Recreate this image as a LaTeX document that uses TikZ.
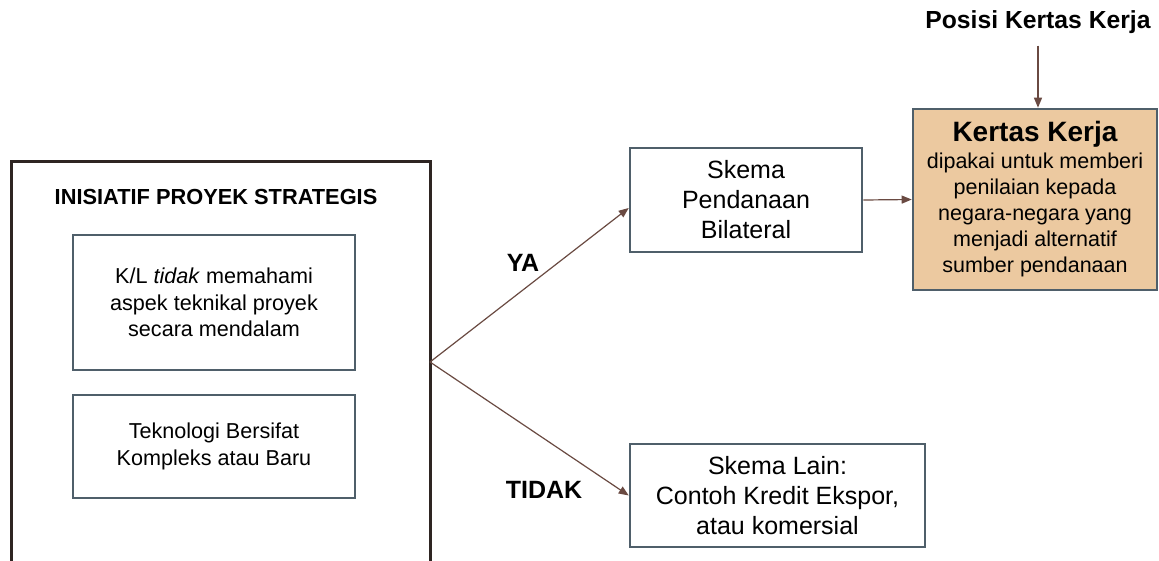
\documentclass[tikz,border=0pt]{standalone}
\usepackage{fontspec}
\setmainfont{Liberation Sans}
\usetikzlibrary{arrows.meta,calc}
\definecolor{outerc}{HTML}{2E2522}
\definecolor{slate}{HTML}{4F5F6A}
\definecolor{arrc}{HTML}{6A4A42}
\definecolor{tan}{HTML}{ECC9A0}
\tikzset{
  box/.style={draw=slate,line width=2.6pt,rectangle,align=center,inner sep=0pt},
  conn/.style={draw=arrc,line width=1.2pt,-{Triangle[length=10pt,width=8pt]}},
  lbl/.style={font=\fontsize{25}{28}\selectfont\bfseries,inner sep=0pt},
}
\begin{document}
\begin{tikzpicture}[x=1pt,y=-1pt]
\useasboundingbox (0,0) rectangle (1159,560);
\clip (0,0) rectangle (1159,560);
\fill[white] (0,0) rectangle (1159,560);
% outer box
\node[draw=outerc,line width=3pt,rectangle,minimum width=419pt,minimum height=440pt,inner sep=0pt] (outer) at (220.5,381) {};
\node[font=\fontsize{21.8}{24}\selectfont\bfseries] (title) at (216,197) {INISIATIF PROYEK STRATEGIS};
\node[box,minimum width=282pt,minimum height=135pt,font=\fontsize{21.6}{26.5}\selectfont] (b1) at (214,302.5) {K/L \textit{tidak} memahami\\aspek teknikal proyek\\secara mendalam};
\node[box,minimum width=282pt,minimum height=103pt,font=\fontsize{21.6}{26.5}\selectfont] (b2) at (214,446.5) {Teknologi Bersifat\\Kompleks atau Baru};
% right boxes
\node[box,minimum width=232pt,minimum height=104pt,font=\fontsize{25}{30}\selectfont] (skema) at (746,200) {Skema\\Pendanaan\\Bilateral};
\node[box,minimum width=295pt,minimum height=103pt,font=\fontsize{25}{30}\selectfont] (lain) at (777.5,495.5) {Skema Lain:\\Contoh Kredit Ekspor,\\atau komersial};
\node[box,fill=tan,minimum width=244pt,minimum height=181pt,font=\fontsize{21.5}{26}\selectfont] (kertas) at (1035,199.5) {{\fontsize{28}{30}\selectfont\bfseries Kertas Kerja}\\[1pt]dipakai untuk memberi\\penilaian kepada\\negara-negara yang\\menjadi alternatif\\sumber pendanaan};
\node[font=\fontsize{24.7}{28}\selectfont\bfseries,inner sep=0pt] (posisi) at (1038,22) {Posisi Kertas Kerja};
% connectors
\coordinate (br) at (430,362);
\draw[conn] (br) -- ($(skema.west)+(0,8)$);
\draw[conn] (br) -- (lain.west);
\draw[conn] (skema.east) -- (kertas.west);
\draw[conn] ($(posisi.south)+(0,12)$) -- (posisi.south |- kertas.north);
% labels
\node[lbl] (ya) at (523,263) {YA};
\node[lbl] (tidak) at (544,490) {TIDAK};
\end{tikzpicture}
\end{document}
